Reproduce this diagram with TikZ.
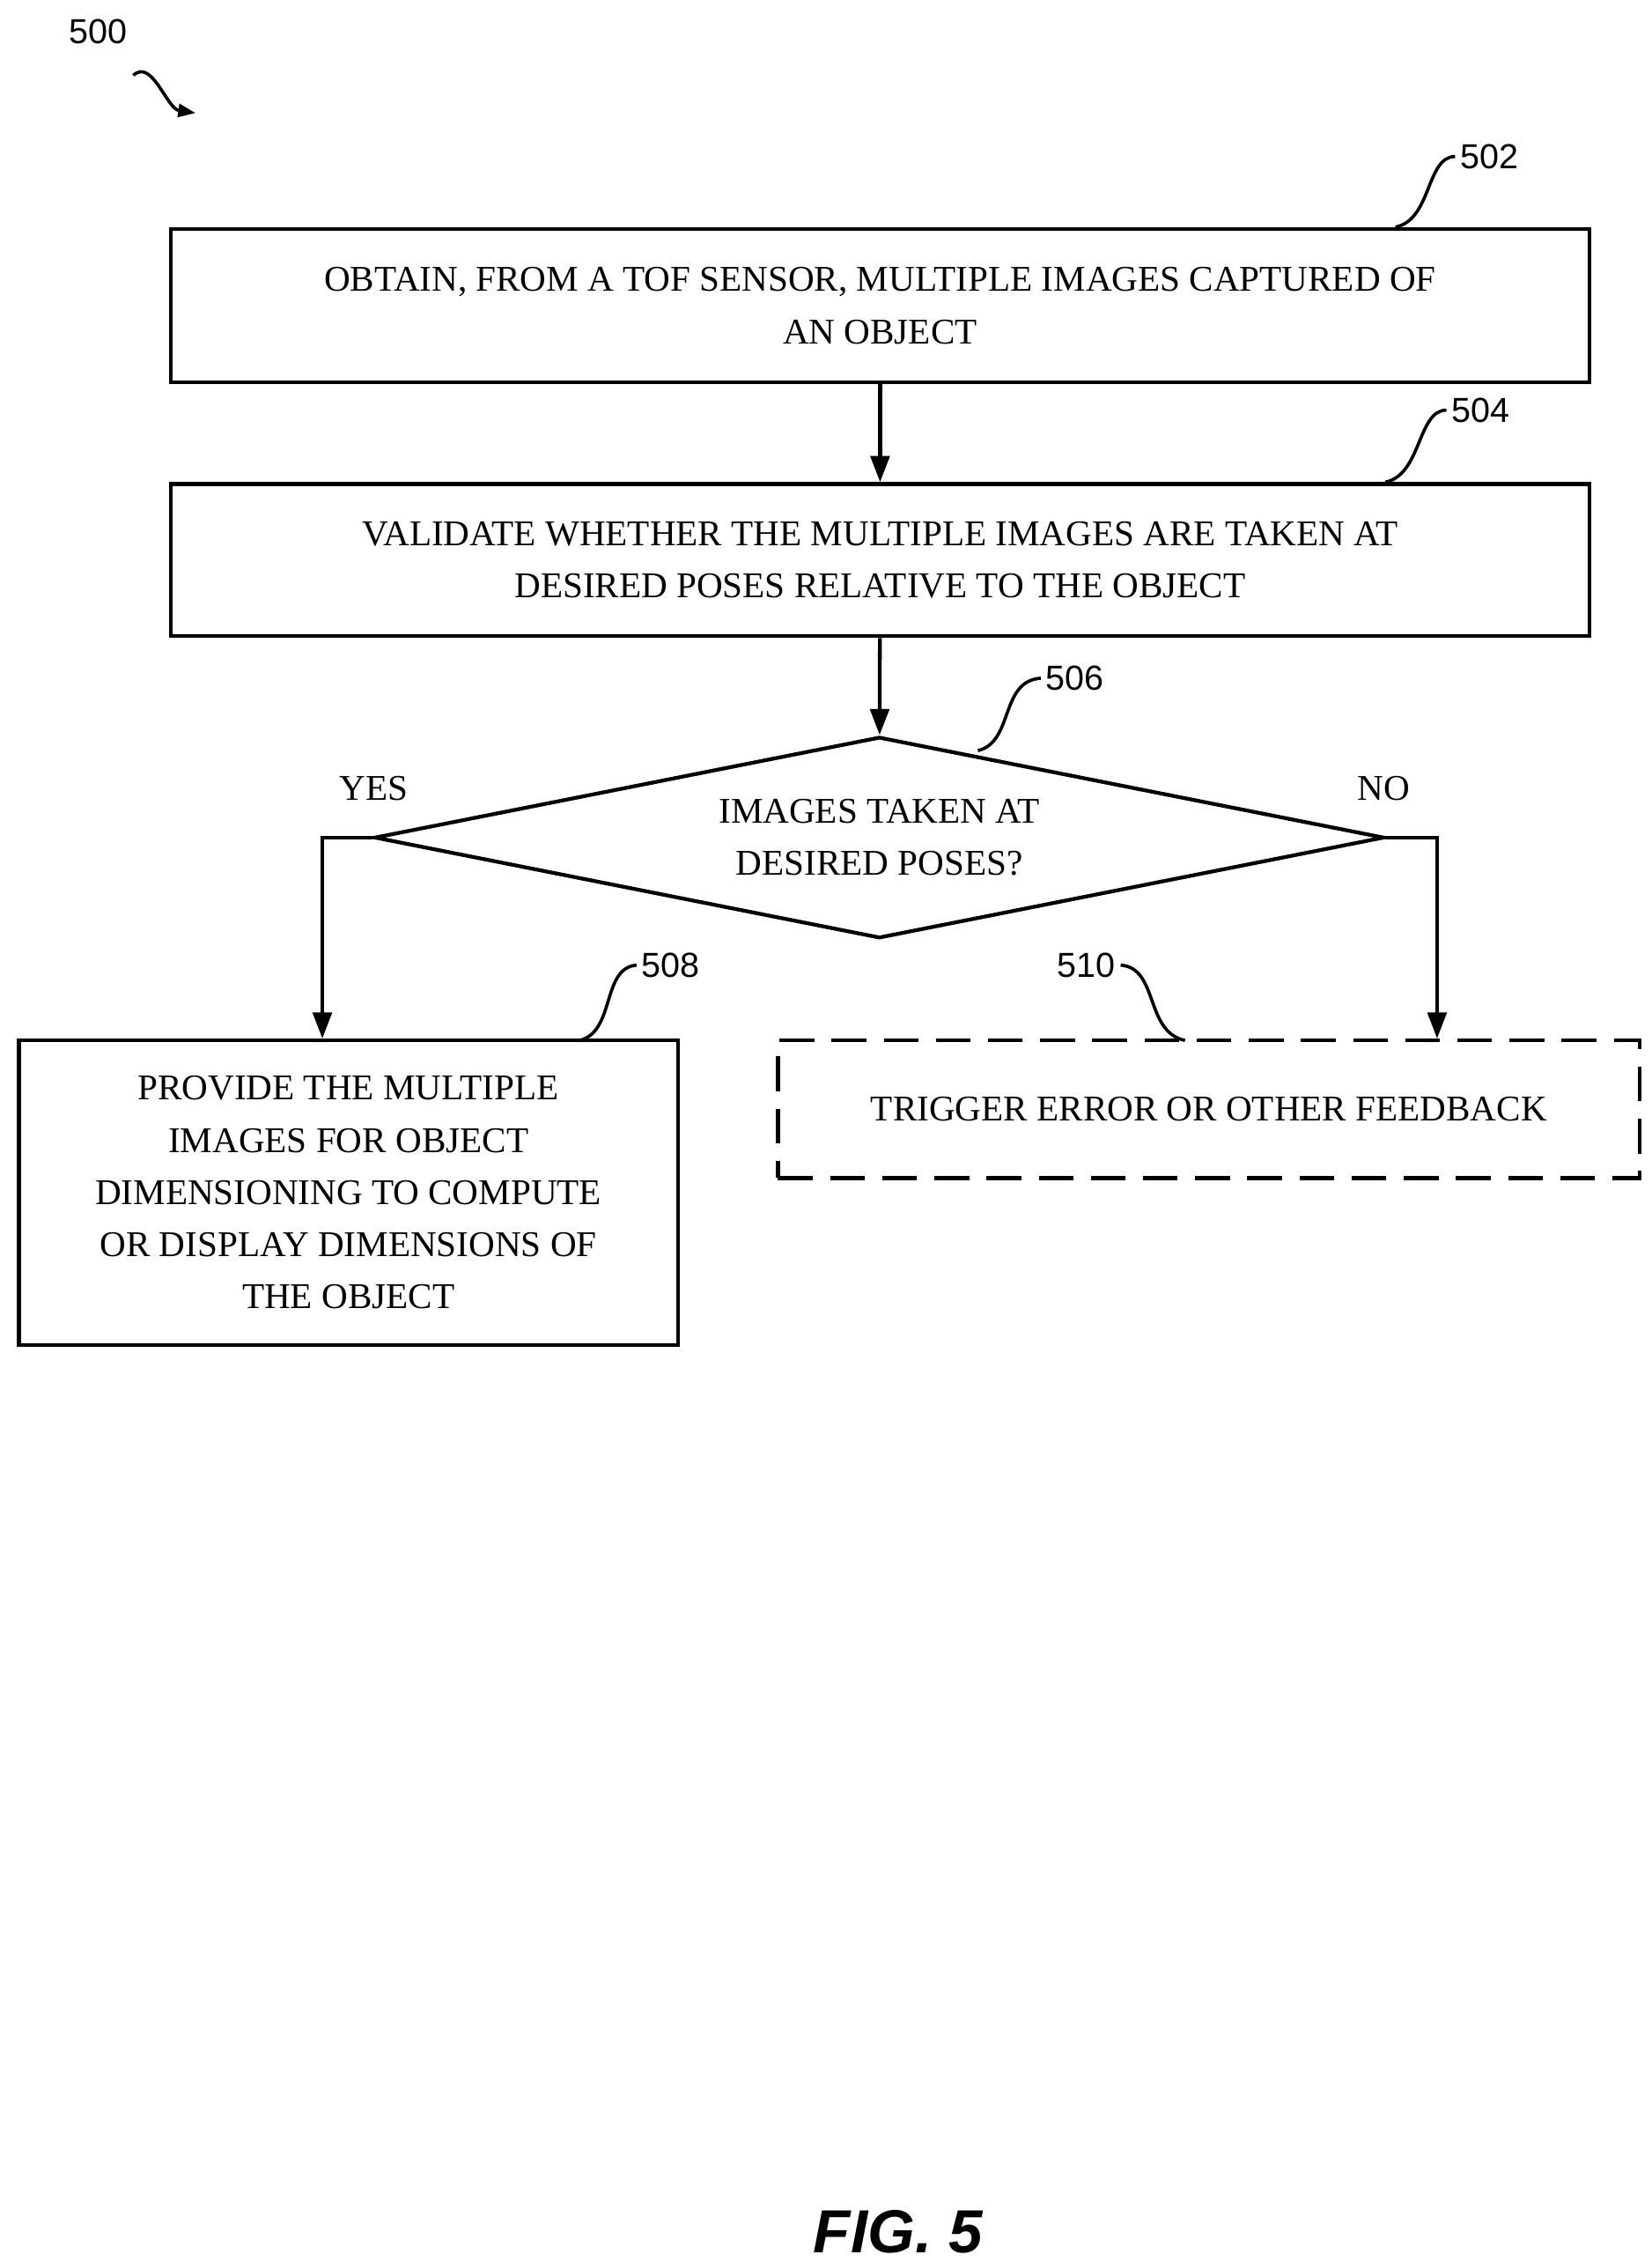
\documentclass[tikz,border=0pt]{standalone}
\usepackage{fontspec}
\setmainfont{Liberation Serif}
\setsansfont{Liberation Sans}
\usetikzlibrary{shapes.geometric,arrows.meta}
\begin{document}
\begin{tikzpicture}[x=1pt,y=-1pt,
  box/.style={draw,line width=2.6pt,inner sep=0,align=center,font=\fontsize{25}{36}\selectfont},
  arr/.style={line width=2.6pt,-{Triangle[length=18pt,width=13pt]}},
  lab/.style={font=\sffamily\fontsize{24}{28}\selectfont},
  sq/.style={line width=2.2pt}]
\useasboundingbox (0,0) rectangle (1140,1561);
\node[box,minimum width=979,minimum height=106] (b502) at (607.5,211) {OBTAIN, FROM A TOF SENSOR, MULTIPLE IMAGES CAPTURED OF\\AN OBJECT};
\node[box,minimum width=979,minimum height=105] (b504) at (607.5,386.5) {VALIDATE WHETHER THE MULTIPLE IMAGES ARE TAKEN AT\\DESIRED POSES RELATIVE TO THE OBJECT};
\node[draw,line width=2.6pt,diamond,inner sep=0,minimum width=697,minimum height=139] (d) at (607,578) {};
\node[align=center,font=\fontsize{25}{36}\selectfont] (dt) at (607,578) {IMAGES TAKEN AT\\DESIRED POSES?};
\node[box,minimum width=455,minimum height=210] (b508) at (240.5,823) {PROVIDE THE MULTIPLE\\IMAGES FOR OBJECT\\DIMENSIONING TO COMPUTE\\OR DISPLAY DIMENSIONS OF\\THE OBJECT};
\node[box,dash pattern=on 24pt off 12pt,minimum width=595,minimum height=95] (b510) at (834.5,765.5) {TRIGGER ERROR OR OTHER FEEDBACK};
\draw[arr] (b502) -- (b504);
\draw[arr] (b504) -- (d);
\draw[arr] (d.west) -| ([xshift=-18]b508.north);
\draw[arr] (d.east) -| ([xshift=157.5]b510.north);
\node[font=\fontsize{25}{30}\selectfont] (yes) at (258,544) {YES};
\node[font=\fontsize{25}{30}\selectfont] (no) at (955,544) {NO};
\node[lab] (l500) at (68,22) {500};
\node[lab] (l502) at (1028,108) {502};
\node[lab] (l504) at (1022,283) {504};
\node[lab] (l506) at (742,468) {506};
\node[lab] (l508) at (463,666) {508};
\node[lab] (l510) at (750,666) {510};
\coordinate (s500) at (92,52);
\draw[sq,-{Triangle[length=12pt,width=9pt]}] (s500) .. controls (105,40) and (115,75) .. (135,78);
\draw[sq] (b502.north east) ++(-135,0) .. controls +(25,-5) and +(-20,0) .. (l502.west);
\draw[sq] (b504.north east) ++(-142,0) .. controls +(25,-5) and +(-20,0) .. (l504.west);
\draw[sq] (675,518) .. controls (700,512) and (690,470) .. (l506.west);
\draw[sq] (400,718) .. controls (425,712) and (415,668) .. (l508.west);
\draw[sq] (l510.east) .. controls (800,668) and (790,712) .. (818,718);
\node[font=\sffamily\bfseries\itshape\fontsize{42}{48}\selectfont] (fig) at (620,1540) {FIG. 5};
\end{tikzpicture}
\end{document}
